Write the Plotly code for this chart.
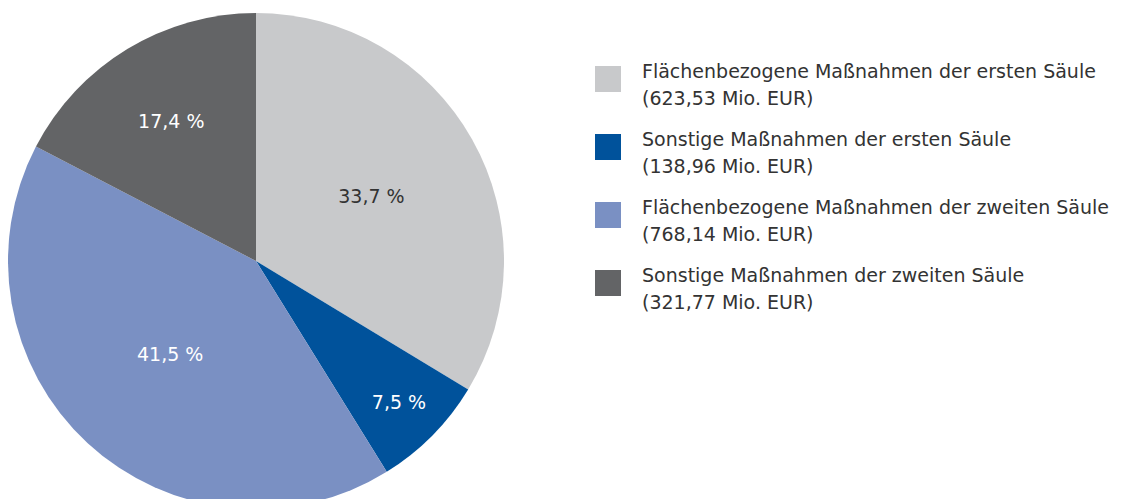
import plotly.graph_objects as go

labels = [
    "Flächenbezogene Maßnahmen der ersten Säule",
    "Sonstige Maßnahmen der ersten Säule",
    "Flächenbezogene Maßnahmen der zweiten Säule",
    "Sonstige Maßnahmen der zweiten Säule",
]
values_mio_eur = [623.53, 138.96, 768.14, 321.77]
colors = ["#c8c9cb", "#00529b", "#7a90c3", "#636466"]
text_colors = ["#333333", "#ffffff", "#ffffff", "#ffffff"]

total = sum(values_mio_eur)
pct_text = [f"{v / total * 100:.1f} %".replace(".", ",") for v in values_mio_eur]
value_text = [f"({v:.2f} Mio. EUR)".replace(".", ",", 1) for v in values_mio_eur]

FONT = "DejaVu Sans"
FS = 19
W, H = 1123, 510

fig = go.Figure(
    go.Pie(
        labels=labels,
        values=values_mio_eur,
        text=pct_text,
        texttemplate="%{text}",
        textposition="inside",
        insidetextorientation="horizontal",
        textfont=dict(family=FONT, size=FS, color=text_colors),
        marker=dict(colors=colors, line=dict(width=0)),
        sort=False,
        direction="clockwise",
        rotation=0,
        hoverinfo="label+value",
        showlegend=False,
        domain=dict(x=[0, 496 / W], y=[1 - 501 / H, 1 - 5 / H]),
    )
)

# Legend built as annotations + colour squares (layout only)
annotations = []
shapes = []
legend_x_sq = 587
legend_x_txt = 632
first_top = 58
step = 68
sq = 26
for i, (lab, vt, col) in enumerate(zip(labels, value_text, colors)):
    top = first_top + i * step
    shapes.append(dict(
        type="rect", xref="paper", yref="paper",
        x0=legend_x_sq / W, x1=(legend_x_sq + sq) / W,
        y0=1 - (top + sq) / H, y1=1 - top / H,
        fillcolor=col, line=dict(width=0),
    ))
    for j, line in enumerate([lab, vt]):
        annotations.append(dict(
            xref="paper", yref="paper",
            x=legend_x_txt / W, y=1 - (top + 5 + j * 27) / H,
            xanchor="left", yanchor="middle",
            text=line, showarrow=False,
            font=dict(family=FONT, size=FS, color="#333333"),
        ))

fig.update_layout(
    width=W,
    height=H,
    margin=dict(l=0, r=0, t=0, b=0),
    paper_bgcolor="white",
    plot_bgcolor="white",
    font=dict(family=FONT, size=FS, color="#333333"),
    shapes=shapes,
    annotations=annotations,
    showlegend=False,
)

fig.write_html("out.html")
